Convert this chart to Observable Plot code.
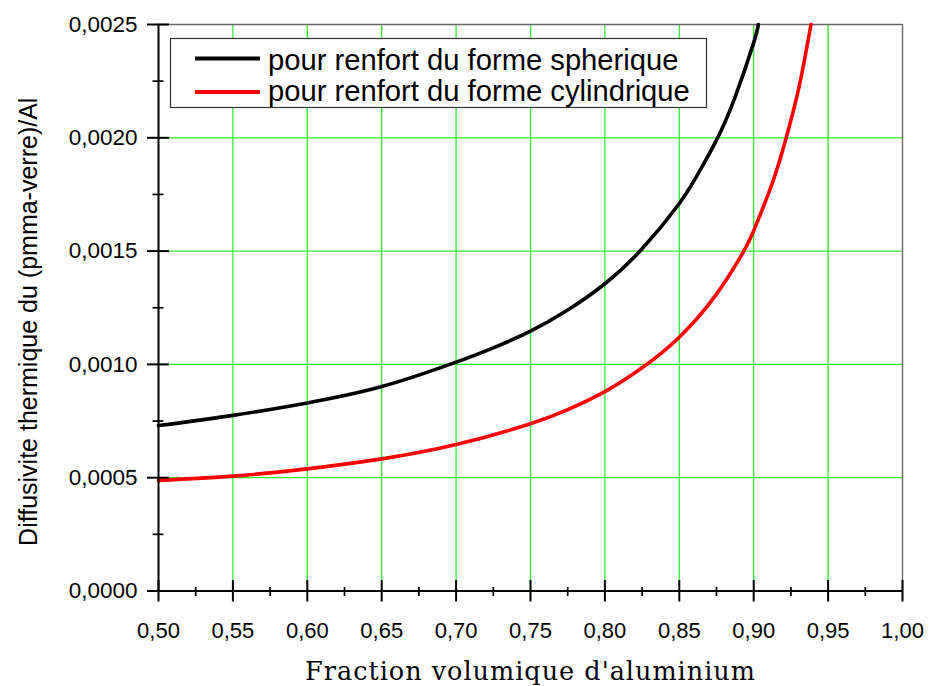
<!DOCTYPE html>
<html>
<head>
<meta charset="utf-8">
<script src="https://cdn.jsdelivr.net/npm/d3@7"></script>
<script src="https://cdn.jsdelivr.net/npm/@observablehq/plot@0.6"></script>
<style>
  body { margin: 0; background: #fff; }
  #chart { width: 930px; height: 686px; }
</style>
</head>
<body>
<div id="chart"></div>
<script>
// ---- data ----
const seriesNames = ["pour renfort du forme spherique", "pour renfort du forme cylindrique"];
const seriesColors = ["#000000", "#ff0000"];

const xSph = [0.50, 0.55, 0.60, 0.65, 0.70, 0.725, 0.75, 0.775, 0.80, 0.825, 0.85, 0.8625, 0.875, 0.8875, 0.90, 0.9031];
const ySph = [0.000730, 0.000775, 0.000830, 0.000902, 0.00101, 0.001073, 0.001147, 0.00124, 0.001356, 0.00151, 0.00171, 0.00184, 0.00199, 0.00218, 0.00242, 0.00250];

const xCyl = [0.50, 0.55, 0.60, 0.65, 0.70, 0.75, 0.775, 0.80, 0.825, 0.85, 0.875, 0.8925, 0.90, 0.9125, 0.921, 0.93, 0.9385];
const yCyl = [0.000488, 0.000507, 0.000539, 0.000583, 0.000646, 0.000738, 0.000800, 0.000880, 0.000985, 0.001120, 0.001310, 0.00149, 0.001590, 0.00180, 0.00198, 0.00221, 0.00250];

const xMajorTicks = [0.50, 0.55, 0.60, 0.65, 0.70, 0.75, 0.80, 0.85, 0.90, 0.95, 1.00];
const xMinorTicks = [0.525, 0.575, 0.625, 0.675, 0.725, 0.775, 0.825, 0.875, 0.925, 0.975];
const yMajorTicks = [0, 0.0005, 0.0010, 0.0015, 0.0020, 0.0025];
const yMinorTicks = [0.00025, 0.00075, 0.00125, 0.00175, 0.00225];
const xGridLines = [0.55, 0.60, 0.65, 0.70, 0.75, 0.80, 0.85, 0.90, 0.95];
const yGridLines = [0.0005, 0.0010, 0.0015, 0.0020];

const xTitle = "Fraction volumique d'aluminium";
const yTitle = "Diffusivite thermique du (pmma-verre)/Al";

// ---- layout ----
const W = 930, H = 686;
const mL = 158, mR = 28, mT = 24, mB = 95.5;
const fw = W - mL - mR, fh = H - mT - mB;

const sph = xSph.map((x, i) => ({x, y: ySph[i]}));
const cyl = xCyl.map((x, i) => ({x, y: yCyl[i]}));

const fmtX = d => d.toFixed(2).replace(".", ",");
const fmtY = d => d.toFixed(4).replace(".", ",");
const sans = "'Liberation Sans', Arial, Helvetica, sans-serif";
const green = "#2cf02c";

const chart = Plot.plot({
  width: W, height: H,
  marginLeft: mL, marginRight: mR, marginTop: mT, marginBottom: mB,
  style: {fontFamily: sans, background: "white", color: "black", overflow: "visible"},
  x: {domain: [0.5, 1.0], axis: null},
  y: {domain: [0, 0.0025], axis: null},
  marks: [
    Plot.ruleX(xGridLines, {stroke: green, strokeWidth: 1.3}),
    Plot.ruleY(yGridLines, {stroke: green, strokeWidth: 1.3}),
    Plot.ruleY([0.0025], {stroke: "#666", strokeWidth: 1.4}),
    Plot.ruleX([1.0], {stroke: "#666", strokeWidth: 1.4}),
    Plot.line(sph, {x: "x", y: "y", stroke: seriesColors[0], strokeWidth: 3.6, curve: "natural"}),
    Plot.line(cyl, {x: "x", y: "y", stroke: seriesColors[1], strokeWidth: 3.6, curve: "natural"}),
    Plot.ruleX([0.5], {stroke: "black", strokeWidth: 2}),
    Plot.ruleY([0], {stroke: "black", strokeWidth: 2}),
    Plot.tickX(xMajorTicks, {x: d => d, insetTop: fh - 10.5, insetBottom: -11, stroke: "black", strokeWidth: 2}),
    Plot.tickX(xMinorTicks, {x: d => d, insetTop: fh - 3.5, insetBottom: -5.5, stroke: "black", strokeWidth: 1.7}),
    Plot.tickY(yMajorTicks, {y: d => d, insetLeft: -11, insetRight: fw - 11, stroke: "black", strokeWidth: 2}),
    Plot.tickY(yMinorTicks, {y: d => d, insetLeft: -5.5, insetRight: fw - 5.5, stroke: "black", strokeWidth: 1.7}),
    Plot.axisX(xMajorTicks, {tickSize: 0, tickPadding: 31, tickFormat: fmtX, fontSize: 22, fill: "black", label: null}),
    Plot.axisY(yMajorTicks, {tickSize: 0, tickPadding: 21, tickFormat: fmtY, fontSize: 22.5, fill: "black", label: null}),
    Plot.text([yTitle], {frameAnchor: "left", textAnchor: "middle", lineAnchor: "middle", rotate: -90, dx: -130, dy: 14, fontSize: 25, fill: "black"}),
    Plot.text([xTitle], {frameAnchor: "bottom", textAnchor: "middle", lineAnchor: "middle", dy: 81, fontSize: 25.5, fontFamily: "'DejaVu Serif', serif", fill: "black", className: "xtitle"})
  ]
});

document.getElementById("chart").appendChild(chart);

const svgNode = chart.tagName.toLowerCase() === "svg" ? chart : chart.querySelector("svg");
const svg = d3.select(svgNode);
svg.selectAll(".xtitle text").attr("letter-spacing", "1px");

// ---- legend box (inside the plot area, top-left) ----
const lg = svg.append("g");
lg.append("rect")
  .attr("x", 170.5).attr("y", 38.5).attr("width", 536).attr("height", 69)
  .attr("fill", "white").attr("stroke", "#333").attr("stroke-width", 1.2);
const rows = [58.5, 92];
const baselines = [69.5, 101];
seriesNames.forEach((name, i) => {
  lg.append("line")
    .attr("x1", 195).attr("x2", 260).attr("y1", rows[i]).attr("y2", rows[i])
    .attr("stroke", seriesColors[i]).attr("stroke-width", 4.2);
  lg.append("text")
    .attr("x", 268).attr("y", baselines[i])
    .attr("text-anchor", "start")
    .attr("font-family", sans).attr("font-size", 29.2).attr("fill", "black")
    .text(name);
});
</script>
</body>
</html>
